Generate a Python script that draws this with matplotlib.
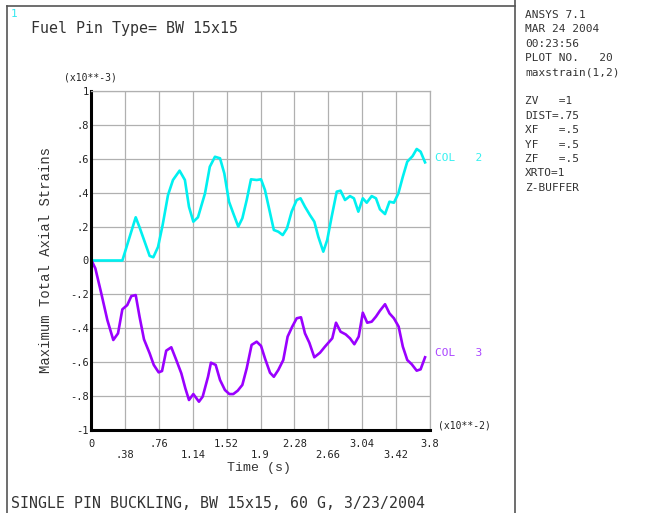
import matplotlib
matplotlib.use("Agg")
import matplotlib.pyplot as plt
from matplotlib.lines import Line2D

# ---- data (time in units of 1e-2 s, strain in units of 1e-3) ----
col2_t = [0.0, 0.347, 0.497, 0.54, 0.654, 0.695, 0.748, 0.80, 0.86, 0.916, 0.99, 1.05, 1.096,
          1.145, 1.197, 1.276, 1.33, 1.388, 1.445, 1.493, 1.546, 1.594, 1.65, 1.696, 1.745,
          1.793, 1.857, 1.906, 1.95, 2.0, 2.05, 2.10, 2.15, 2.198, 2.25, 2.307, 2.35, 2.40,
          2.456, 2.505, 2.55, 2.606, 2.65, 2.70, 2.757, 2.80, 2.85, 2.906, 2.95, 3.0, 3.05,
          3.094, 3.15, 3.198, 3.243, 3.30, 3.35, 3.40, 3.45, 3.50, 3.55, 3.61, 3.656, 3.70, 3.75]
col2_v = [0.0, 0.0, 0.255, 0.196, 0.027, 0.019, 0.08, 0.21, 0.386, 0.475, 0.53, 0.475, 0.317,
          0.229, 0.255, 0.396, 0.553, 0.612, 0.603, 0.514, 0.347, 0.278, 0.2, 0.249, 0.357,
          0.479, 0.475, 0.479, 0.416, 0.298, 0.18, 0.17, 0.15, 0.19, 0.288, 0.357, 0.367, 0.317,
          0.268, 0.229, 0.14, 0.052, 0.121, 0.258, 0.406, 0.412, 0.357, 0.38, 0.367, 0.288, 0.367,
          0.341, 0.38, 0.367, 0.302, 0.274, 0.347, 0.341, 0.396, 0.494, 0.583, 0.616, 0.658, 0.642, 0.579]

col3_t = [0.0, 0.043, 0.11, 0.178, 0.245, 0.298, 0.347, 0.402, 0.448, 0.497, 0.54, 0.59, 0.654,
          0.70, 0.755, 0.793, 0.84, 0.897, 0.953, 1.01, 1.055, 1.096, 1.145, 1.208, 1.25, 1.31,
          1.343, 1.396, 1.445, 1.50, 1.55, 1.594, 1.644, 1.696, 1.745, 1.80, 1.857, 1.906, 1.95,
          2.007, 2.05, 2.10, 2.156, 2.205, 2.257, 2.307, 2.355, 2.40, 2.449, 2.505, 2.569, 2.625,
          2.707, 2.749, 2.80, 2.858, 2.906, 2.955, 3.004, 3.05, 3.10, 3.15, 3.198, 3.243, 3.30,
          3.35, 3.40, 3.453, 3.50, 3.55, 3.60, 3.656, 3.70, 3.75]
col3_v = [0.0, -0.046, -0.194, -0.351, -0.469, -0.43, -0.288, -0.263, -0.21, -0.204, -0.331, -0.465,
          -0.548, -0.616, -0.66, -0.652, -0.532, -0.512, -0.587, -0.666, -0.754, -0.823, -0.788,
          -0.833, -0.803, -0.686, -0.603, -0.616, -0.705, -0.764, -0.788, -0.788, -0.768, -0.734,
          -0.636, -0.498, -0.479, -0.504, -0.577, -0.662, -0.686, -0.646, -0.587, -0.449, -0.39,
          -0.341, -0.335, -0.43, -0.485, -0.571, -0.544, -0.508, -0.459, -0.367, -0.42, -0.436,
          -0.459, -0.494, -0.449, -0.308, -0.367, -0.361, -0.331, -0.296, -0.258, -0.312, -0.341,
          -0.39, -0.508, -0.587, -0.612, -0.65, -0.642, -0.571]

x_ticks = [0, 0.38, 0.76, 1.14, 1.52, 1.9, 2.28, 2.66, 3.04, 3.42, 3.8]
x_labels = ["0", ".38", ".76", "1.14", "1.52", "1.9", "2.28", "2.66", "3.04", "3.42", "3.8"]
y_ticks = [1, 0.8, 0.6, 0.4, 0.2, 0, -0.2, -0.4, -0.6, -0.8, -1]
y_labels = ["1", ".8", ".6", ".4", ".2", "0", "-.2", "-.4", "-.6", "-.8", "-1"]

info_lines = ["ANSYS 7.1", "MAR 24 2004", "00:23:56", "PLOT NO.   20", "maxstrain(1,2)", "",
              "ZV   =1", "DIST=.75", "XF   =.5", "YF   =.5", "ZF   =.5", "XRTO=1", "Z-BUFFER"]

CYAN = "#00f0f0"
PURPLE = "#9a00ff"
MONO = "DejaVu Sans Mono"

W, H = 649, 513
fig = plt.figure(figsize=(W / 100, H / 100), dpi=100)

def fx(px):
    return px / W

def fy(py):
    return 1 - py / H

# frame lines
for (x0, y0, x1, y1) in [(7, 6, 515, 6), (7, 6, 7, 513), (515, 0, 515, 513)]:
    fig.add_artist(Line2D([fx(x0), fx(x1)], [fy(y0), fy(y1)], color="#555555", lw=1.2,
                          transform=fig.transFigure))

ax = fig.add_axes([fx(91.5), fy(430), fx(429.5) - fx(91.5), fy(91) - fy(430)])
ax.plot(col2_t, col2_v, color=CYAN, lw=1.9, solid_joinstyle="round")
ax.plot(col3_t, col3_v, color=PURPLE, lw=1.9, solid_joinstyle="round")

ax.set_xlim(0, 3.8)
ax.set_ylim(-1, 1)
ax.set_xticks(x_ticks)
ax.set_yticks(y_ticks)
ax.set_xticklabels([])
ax.set_yticklabels(y_labels, family=MONO, fontsize=7.5, color="#222222")
ax.tick_params(axis="both", length=0, pad=2)
ax.grid(True, color="#b0b0b0", lw=0.9)
ax.set_axisbelow(True)
for s in ["top", "right"]:
    ax.spines[s].set_color("#b0b0b0")
    ax.spines[s].set_linewidth(0.9)
for s in ["left", "bottom"]:
    ax.spines[s].set_color("black")
    ax.spines[s].set_linewidth(2.2)

# staggered x tick labels
for i, (t, lab) in enumerate(zip(x_ticks, x_labels)):
    yoff = -0.042 if i % 2 == 0 else -0.075
    ax.text(t, yoff, lab, transform=ax.get_xaxis_transform(), ha="center", va="center",
            family=MONO, fontsize=7.5, color="#222222")

fig.text(fx(464), fy(425), "(x10**-2)", family=MONO, fontsize=7, ha="center", va="center", color="#222222")
fig.text(fx(90), fy(77), "(x10**-3)", family=MONO, fontsize=7, ha="center", va="center", color="#222222")

fig.text(fx(259), fy(468), "Time (s)", family="Liberation Mono", fontsize=9.5, ha="center", va="center", color="#333333")
fig.text(fx(46), fy(260), "Maximum Total Axial Strains", family="Liberation Mono", fontsize=10,
         rotation=90, ha="center", va="center", color="#333333")

fig.text(fx(435), fy(158), "COL   2", family=MONO, fontsize=8, ha="left", va="center", color="#33f0f0")
fig.text(fx(435), fy(353), "COL   3", family=MONO, fontsize=8, ha="left", va="center", color="#aa44ff")

fig.text(fx(11), fy(14), "1", family=MONO, fontsize=8, ha="left", va="center", color="#33e8f0")
fig.text(fx(31), fy(29), "Fuel Pin Type= BW 15x15", family=MONO, fontsize=10.8, ha="left", va="center", color="#333333")
fig.text(fx(11), fy(503), "SINGLE PIN BUCKLING, BW 15x15, 60 G, 3/23/2004", family=MONO, fontsize=10.7,
         ha="left", va="center", color="#333333")

y0 = 15
for i, line in enumerate(info_lines):
    if line:
        fig.text(fx(525), fy(y0 + i * 14.4), line, family=MONO, fontsize=8, ha="left", va="center",
                 color="#333333")

fig.savefig("out.png", dpi=100)
